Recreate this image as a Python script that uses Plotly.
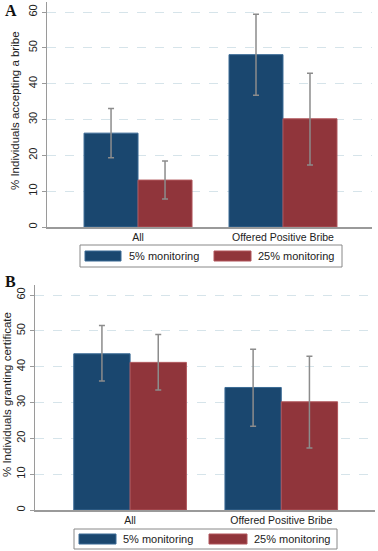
import plotly.graph_objects as go

W, H = 378, 551

categories = ["All", "Offered Positive Bribe"]
series_names = ["5% monitoring", "25% monitoring"]
y_ticks = [0, 10, 20, 30, 40, 50, 60]

# Panel A: % individuals accepting a bribe
a_5 = [26.2, 48.1]
a_5_lo = [19.3, 36.8]
a_5_hi = [33.1, 59.4]
a_25 = [13.1, 30.2]
a_25_lo = [7.8, 17.3]
a_25_hi = [18.4, 42.9]

# Panel B: % individuals granting certificate
b_5 = [43.6, 34.2]
b_5_lo = [36.0, 23.4]
b_5_hi = [51.5, 44.9]
b_25 = [41.2, 30.2]
b_25_lo = [33.5, 17.3]
b_25_hi = [49.0, 42.9]

BLUE = "#1a476f"
RED = "#90353b"
BLUE_EDGE = "#3a6a95"
RED_EDGE = "#b0555b"
ERR = "#8c8c8c"
AXIS = "#9a9a9a"
GRID = "#d6e4ea"


def px(x):
    return x / W


def py(y):
    return 1 - y / H


def bar(vals, lo, hi, color, edge, name, xa, ya):
    return go.Bar(
        x=categories, y=vals, name=name, xaxis=xa, yaxis=ya,
        marker=dict(color=color, line=dict(color=edge, width=1)),
        error_y=dict(type="data", symmetric=False,
                     array=[h - v for h, v in zip(hi, vals)],
                     arrayminus=[v - l for v, l in zip(vals, lo)],
                     color=ERR, thickness=1.5, width=3),
        showlegend=False,
    )


fig = go.Figure()
fig.add_trace(bar(a_5, a_5_lo, a_5_hi, BLUE, BLUE_EDGE, series_names[0], "x", "y"))
fig.add_trace(bar(a_25, a_25_lo, a_25_hi, RED, RED_EDGE, series_names[1], "x", "y"))
fig.add_trace(bar(b_5, b_5_lo, b_5_hi, BLUE, BLUE_EDGE, series_names[0], "x2", "y2"))
fig.add_trace(bar(b_25, b_25_lo, b_25_hi, RED, RED_EDGE, series_names[1], "x2", "y2"))

font = dict(family="Liberation Sans, Arial, sans-serif", color="#222222")

xcommon = dict(showgrid=False, zeroline=False, showline=True, linecolor=AXIS, linewidth=1.5,
               ticks="", tickfont=dict(size=10.5, **font), fixedrange=True)
ycommon = dict(range=[0, 62.8], tickvals=y_ticks, tickangle=-90,
               showgrid=True, gridcolor=GRID, griddash="dash", gridwidth=1,
               zeroline=False, showline=True, linecolor=AXIS, linewidth=1.5,
               ticks="outside", ticklen=4, tickcolor=AXIS, tickwidth=1,
               tickfont=dict(size=11, **font), fixedrange=True)

fig.update_layout(
    width=W, height=H,
    margin=dict(l=0, r=0, t=0, b=0),
    paper_bgcolor="white", plot_bgcolor="white",
    barmode="group", bargap=0.255, bargroupgap=0,
    showlegend=False,
    font=font,
    xaxis=dict(domain=[px(47), px(372)], range=[-0.628, 1.614], anchor="y", **xcommon),
    yaxis=dict(domain=[py(227), py(2)], anchor="x", **ycommon),
    xaxis2=dict(domain=[px(35), px(375)], range=[-0.629, 1.62], anchor="y2", **xcommon),
    yaxis2=dict(domain=[py(510), py(285)], anchor="x2", **ycommon),
)

annotations = []
shapes = []

# Panel labels
annotations.append(dict(text="<b>A</b>", x=px(11), y=py(11), xref="paper", yref="paper",
                        showarrow=False, xanchor="center", yanchor="middle",
                        font=dict(family="Liberation Serif, Times New Roman, serif", size=16, color="#111")))
annotations.append(dict(text="<b>B</b>", x=px(10), y=py(281), xref="paper", yref="paper",
                        showarrow=False, xanchor="center", yanchor="middle",
                        font=dict(family="Liberation Serif, Times New Roman, serif", size=16, color="#111")))

# Y axis titles
annotations.append(dict(text="% Individuals accepting a bribe", x=px(15), y=py(111),
                        xref="paper", yref="paper", showarrow=False, textangle=-90,
                        xanchor="center", yanchor="middle", font=dict(size=11.5, **font)))
annotations.append(dict(text="% Individuals granting certificate", x=px(7), y=py(395),
                        xref="paper", yref="paper", showarrow=False, textangle=-90,
                        xanchor="center", yanchor="middle", font=dict(size=11.5, **font)))


def legend(box, sw1, sw2, t1, t2, sy):
    x0, x1, y0, y1 = box
    shapes.append(dict(type="rect", xref="paper", yref="paper",
                       x0=px(x0), x1=px(x1), y0=py(y1), y1=py(y0),
                       line=dict(color="#888888", width=1), fillcolor="white"))
    for (a, b), col, edge in ((sw1, BLUE, BLUE_EDGE), (sw2, RED, RED_EDGE)):
        shapes.append(dict(type="rect", xref="paper", yref="paper",
                           x0=px(a), x1=px(b), y0=py(sy[1]), y1=py(sy[0]),
                           line=dict(color=edge, width=1), fillcolor=col))
    ym = (sy[0] + sy[1]) / 2
    for tx, name in ((t1, series_names[0]), (t2, series_names[1])):
        annotations.append(dict(text=name, x=px(tx), y=py(ym), xref="paper", yref="paper",
                                showarrow=False, xanchor="left", yanchor="middle",
                                font=dict(size=11, **font)))


legend((80, 342, 245, 267), (85, 121), (214, 251), 127, 256, (251, 261))
legend((74, 337, 529, 549), (79, 116), (209, 247), 121, 252, (534, 544))

fig.update_layout(annotations=annotations, shapes=shapes)

fig.write_html("out.html",
               config={"displayModeBar": False, "staticPlot": True},
               post_script="document.body.style.margin='0';document.body.style.overflow='hidden';")
